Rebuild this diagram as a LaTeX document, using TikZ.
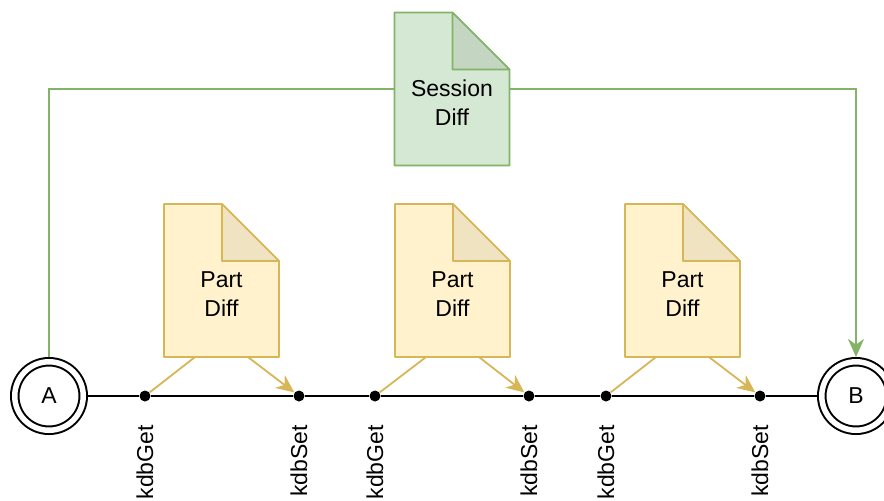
\documentclass[tikz,border=0pt]{standalone}
\usepackage{fontspec}
\setmainfont{Liberation Sans}
\usetikzlibrary{positioning,arrows.meta,calc,backgrounds}
\definecolor{GreenFill}{HTML}{D5E8D4}
\definecolor{GreenFold}{HTML}{C4D6C2}
\definecolor{GreenLine}{HTML}{82B366}
\definecolor{YellowFill}{HTML}{FFF2CC}
\definecolor{YellowFold}{HTML}{EFE3C2}
\definecolor{YellowLine}{HTML}{D6B656}

% document outline with folded corner, drawn behind node #1
\newcommand{\docshape}[4]{%
 \begin{scope}[on background layer]
 \filldraw[fill=#2,draw=#4,line width=.8pt,line join=round] (#1.north west) -- ($(#1.north east)+(-57,0)$) -- ($(#1.north east)+(0,57)$) -- (#1.south east) -- (#1.south west) -- cycle;
 \filldraw[fill=#3,draw=#4,line width=.8pt,line join=round] ($(#1.north east)+(-57,0)$) -- ($(#1.north east)+(-57,57)$) -- ($(#1.north east)+(0,57)$) -- cycle;
 \end{scope}}

\begin{document}
\begin{tikzpicture}[x=.5pt,y=-.5pt,
 txt/.style={font=\fontsize{11.5}{14.3}\selectfont},
 doc/.style={minimum width=57.5pt,minimum height=76.5pt,inner sep=0,outer sep=0,
  label={[txt,align=center,yshift=-6.75pt]center:#1}},
 state/.style={circle,draw,double,double distance=2.75pt,line width=1pt,minimum size=34.25pt,inner sep=0,outer sep=2.375pt,txt},
 dot/.style={circle,fill,inner sep=0,minimum size=5.5pt},
 tag/.style={txt,rotate=90,inner sep=0},
 line/.style={line width=1pt},
 gline/.style={GreenLine,line width=.9pt},
 yline/.style={YellowLine,line width=.9pt},
 tip/.style={-{Stealth[length=9pt,width=8pt,inset=2.8pt]}}]
\useasboundingbox (0,0) rectangle (884,500);

\node[state] (A) at (49,396) {A};
\node[state] (B) at (856,396) {B};

% session diff on top
\node[doc={Session\\Diff}] (sd) at (452,89) {};
\docshape{sd}{GreenFill}{GreenFold}{GreenLine}

% part diffs, get/set points and their names
\foreach \i/\x/\g/\s in {1/221.5/145/299,2/452.5/375/529,3/682.5/606/760}{
 \node[doc={Part\\Diff}] (p\i) at (\x,280.5) {};
 \docshape{p\i}{YellowFill}{YellowFold}{YellowLine}
 \node[dot] (g\i) at (\g,396) {};
 \node[dot] (s\i) at (\s,396) {};
 \node[tag,below=11.5pt of g\i,anchor=east] (lg\i) {kdbGet};
 \node[tag,below=11.5pt of s\i,anchor=east] (ls\i) {kdbSet};
 \draw[yline] ($(p\i.south west)!.27!(p\i.south east)$) -- (g\i);
 \draw[yline,tip] ($(p\i.south west)!.73!(p\i.south east)$) -- (s\i);
}

\draw[line] (A) -- (g1) -- (s1) -- (g2) -- (s2) -- (g3) -- (s3) -- (B);
\draw[gline] (A) |- (sd);
\draw[gline,tip] (sd) -| (B);
\end{tikzpicture}
\end{document}
